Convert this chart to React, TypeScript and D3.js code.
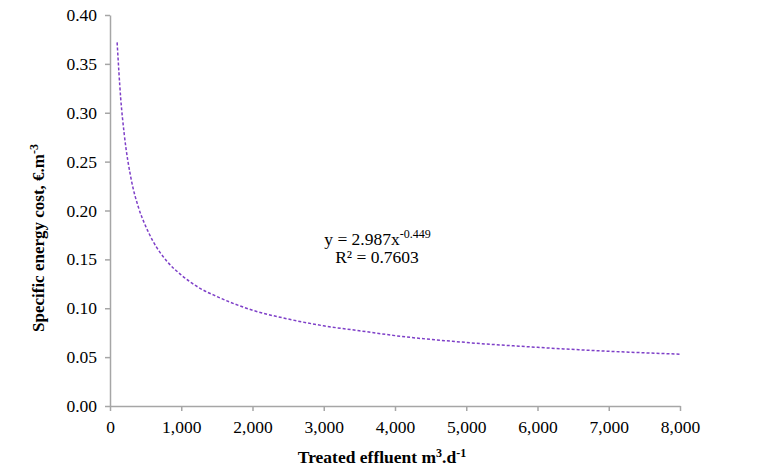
import React, { useEffect, useRef } from "react";
import * as d3 from "d3";

const xValues = [100, 150, 200, 300, 400, 500, 600, 800, 1000, 1250, 1500, 2000, 2500, 3000, 3500, 4000, 5000, 6000, 7000, 8000];
const yValues = [0.372, 0.315, 0.278, 0.231, 0.203, 0.184, 0.169, 0.148, 0.134, 0.121, 0.112, 0.098, 0.089, 0.082, 0.077, 0.072, 0.065, 0.060, 0.056, 0.053];
const xTicks = [0, 1000, 2000, 3000, 4000, 5000, 6000, 7000, 8000];
const yTicks = [0, 0.05, 0.1, 0.15, 0.2, 0.25, 0.3, 0.35, 0.4];
const equationText = "y = 2.987x";
const equationExp = "-0.449";
const r2Text = "R² = 0.7603";

const W = 768;
const H = 470;
const FONT = "Liberation Serif";
const FS = 17.5;

export default function App() {
  const ref = useRef<SVGSVGElement | null>(null);

  useEffect(() => {
    const svg = d3.select(ref.current);
    svg.selectAll("*").remove();

    const x = d3.scaleLinear().domain([0, 8000]).range([110, 680]);
    const y = d3.scaleLinear().domain([0, 0.4]).range([406, 15]);
    const axisColor = "#a6a6a6";

    const xAxis = d3.axisBottom(x).tickValues(xTicks).tickSize(5).tickSizeOuter(0)
      .tickFormat((d) => d3.format(",")(d as number));
    const gx = svg.append("g").attr("transform", `translate(0,${y(0)})`).call(xAxis);
    gx.attr("font-family", null).attr("font-size", null);
    gx.select(".domain").attr("stroke", axisColor).attr("stroke-width", 1.5);
    gx.selectAll(".tick line").attr("stroke", axisColor).attr("stroke-width", 1.5);
    gx.selectAll(".tick text")
      .attr("fill", "#000").attr("dy", "1.1em")
      .style("font-family", FONT).style("font-size", `${FS}px`);

    const yAxis = d3.axisLeft(y).tickValues(yTicks).tickSize(5).tickSizeOuter(0)
      .tickFormat((d) => d3.format(".2f")(d as number));
    const gy = svg.append("g").attr("transform", `translate(${x(0)},0)`).call(yAxis);
    gy.attr("font-family", null).attr("font-size", null);
    gy.select(".domain").attr("stroke", axisColor).attr("stroke-width", 1.5);
    gy.selectAll(".tick line").attr("stroke", axisColor).attr("stroke-width", 1.5);
    gy.selectAll(".tick text")
      .attr("fill", "#000").attr("x", -13)
      .style("font-family", FONT).style("font-size", `${FS}px`);

    const data = xValues.map((v, i) => [v, yValues[i]] as [number, number]);
    const line = d3.line<[number, number]>()
      .x((d) => x(d[0]))
      .y((d) => y(d[1]))
      .curve(d3.curveMonotoneX);
    svg.append("path")
      .datum(data)
      .attr("d", line)
      .attr("fill", "none")
      .attr("stroke", "#7e3fc8")
      .attr("stroke-width", 1.5)
      .attr("stroke-dasharray", "3,2");

    const eq = svg.append("text")
      .attr("x", 377.5)
      .attr("y", 245)
      .attr("text-anchor", "middle")
      .style("font-family", FONT)
      .style("font-size", `${FS}px`)
      .attr("fill", "#000");
    eq.append("tspan").text(equationText);
    eq.append("tspan").style("font-size", "12px").attr("dy", -7).text(equationExp);

    svg.append("text")
      .attr("x", 377)
      .attr("y", 263)
      .attr("text-anchor", "middle")
      .style("font-family", FONT)
      .style("font-size", `${FS}px`)
      .attr("fill", "#000")
      .text(r2Text);

    const xl = svg.append("text")
      .attr("x", 382)
      .attr("y", 463)
      .attr("text-anchor", "middle")
      .style("font-family", FONT)
      .style("font-size", `${FS}px`)
      .style("font-weight", "bold")
      .attr("fill", "#000");
    xl.append("tspan").text("Treated effluent m");
    xl.append("tspan").style("font-size", "12px").attr("dy", -6).text("3");
    xl.append("tspan").attr("dy", 6).text(".d");
    xl.append("tspan").style("font-size", "12px").attr("dy", -6).text("-1");

    const yl = svg.append("text")
      .attr("transform", `translate(44,${238}) rotate(-90)`)
      .attr("text-anchor", "middle")
      .style("font-family", FONT)
      .style("font-size", "17px")
      .style("font-weight", "bold")
      .attr("fill", "#000");
    yl.append("tspan").text("Specific energy cost, €.m");
    yl.append("tspan").style("font-size", "12px").attr("dy", -6).text("-3");
  }, []);

  return (
    <svg ref={ref} width={W} height={H} style={{ display: "block", position: "absolute", left: 0, top: 0, background: "#fff" }} />
  );
}
